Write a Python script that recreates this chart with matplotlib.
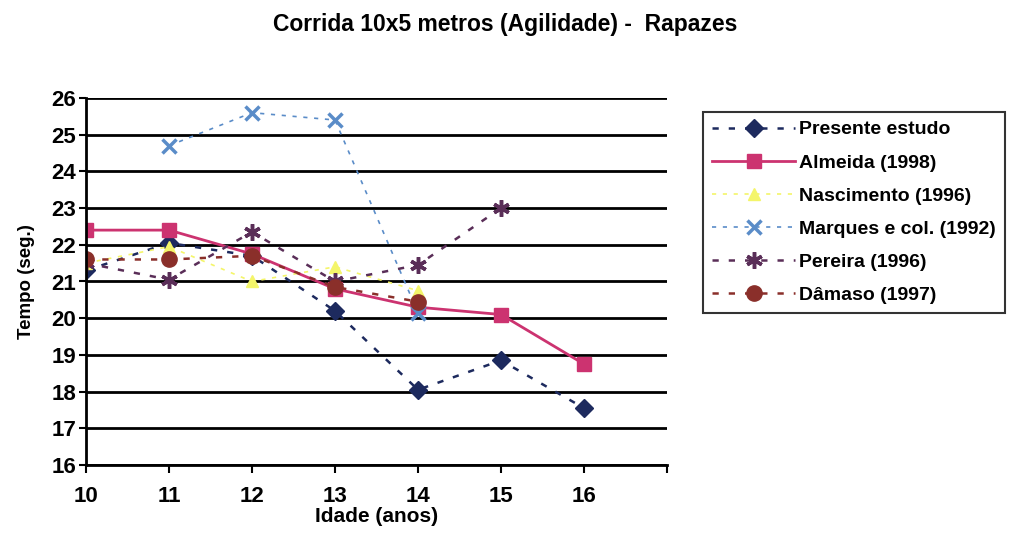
import matplotlib

matplotlib.use("Agg")
import matplotlib.pyplot as plt
import numpy as np

plt.rcParams["font.family"] = ["Liberation Sans", "DejaVu Sans"]
plt.rcParams["font.weight"] = "bold"

ages = [10, 11, 12, 13, 14, 15, 16]

presente = [21.3, 22.05, 21.7, 20.2, 18.05, 18.85, 17.55]
almeida = [22.4, 22.4, 21.75, 20.8, 20.3, 20.1, 18.75]
nascimento = [21.5, 21.95, 21.0, 21.4, 20.75, None, None]
marques = [None, 24.7, 25.6, 25.4, 20.15, None, None]
pereira = [21.5, 21.05, 22.35, 21.0, 21.45, 23.0, None]
damaso = [21.6, 21.6, 21.7, 20.85, 20.45, None, None]


def arr(vals):
    return np.array([np.nan if v is None else v for v in vals], dtype=float)


fig = plt.figure(figsize=(10.1, 5.33), dpi=100)
ax = fig.add_axes([86 / 1010, 68 / 533, (667 - 86) / 1010, (465 - 98) / 533])

dash = (0, (2.5, 4))
series = [
    ("Presente estudo", presente, "#1d2a5e", "D", dash, 9, 1.8),
    ("Almeida (1998)", almeida, "#cc3370", "s", "-", 10, 2.0),
    ("Nascimento (1996)", nascimento, "#f4f56a", "^", dash, 9, 1.2),
    ("Marques e col. (1992)", marques, "#5a8cc8", "x", dash, 10, 1.2),
    ("Pereira (1996)", pereira, "#5a2e58", (6, 2, 0), dash, 12, 1.8),
    ("Dâmaso (1997)", damaso, "#8a2f2a", "o", dash, 11, 1.8),
]

for name, vals, color, marker, ls, ms, lw in series:
    ax.plot(ages, arr(vals), color=color, ls=ls, lw=lw, marker=marker, ms=ms,
            mew=2.5 if marker in ("x", (6, 2, 0)) else 1, label=name)

ax.set_xlim(10, 17)
ax.set_ylim(16, 26)
ax.set_xticks(range(10, 18))
ax.set_xticklabels([str(a) for a in ages] + [""], fontsize=16, fontweight="bold")
ax.set_yticks(range(16, 27))
ax.set_yticklabels([str(v) for v in range(16, 27)], fontsize=16, fontweight="bold")
ax.tick_params(axis="x", direction="out", length=6, width=1.5, pad=9)
ax.tick_params(axis="y", direction="out", length=5, width=1.5, pad=2)
ax.yaxis.grid(True, color="black", lw=2)
ax.set_axisbelow(True)
for s in ("top", "right"):
    ax.spines[s].set_visible(False)
for s in ("left", "bottom"):
    ax.spines[s].set_linewidth(2)

ax.set_xlabel("Idade (anos)", fontsize=15, fontweight="bold", labelpad=0)
ax.set_ylabel("Tempo (seg.)", fontsize=13.5, fontweight="bold", labelpad=12)

fig.suptitle("Corrida 10x5 metros (Agilidade) -  Rapazes", x=0.5, y=0.975,
             fontsize=16.5, fontweight="bold")

leg = fig.legend(loc="upper left", bbox_to_anchor=(703 / 1010, 1 - 112 / 533),
                 frameon=True, fancybox=False, edgecolor="black", fontsize=14,
                 handlelength=4.3, handletextpad=0.2, labelspacing=0.8,
                 borderpad=0.45, borderaxespad=0)
leg.get_frame().set_linewidth(1.5)

fig.savefig("out.png", dpi=100)
